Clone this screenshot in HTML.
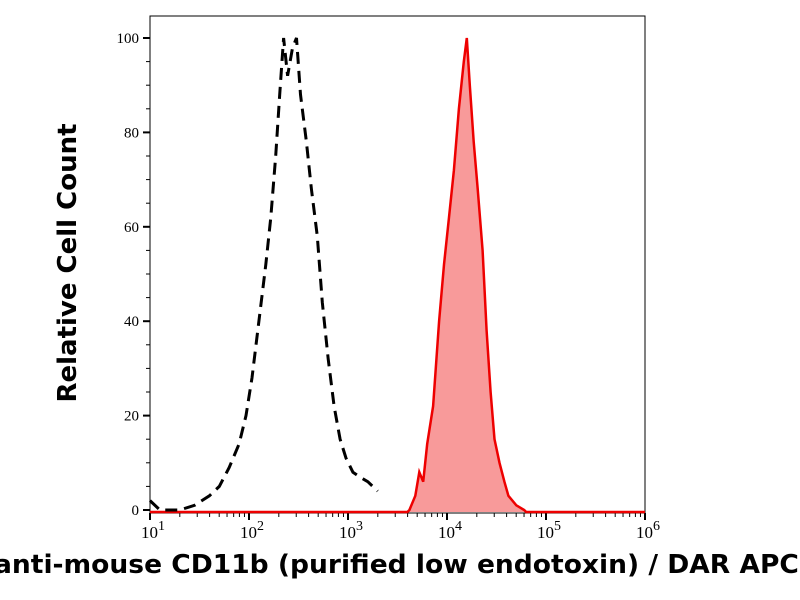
<!DOCTYPE html>
<html><head><style>
body{margin:0;background:#fff;width:800px;height:600px;overflow:hidden;position:relative;font-family:"Liberation Serif",serif}
.xl{position:absolute;left:-6px;top:550px;font:bold 26px "DejaVu Sans","Liberation Sans",sans-serif;white-space:nowrap;color:#000;transform-origin:0 0;transform:scaleX(1.02)}
.yl{position:absolute;left:68px;top:263px;transform:translate(-50%,-50%) rotate(-90deg);font:bold 26px "DejaVu Sans","Liberation Sans",sans-serif;white-space:nowrap}
</style></head><body>
<svg id="s" width="800" height="600" style="position:absolute;left:0;top:0"></svg>
<div class="yl">Relative Cell Count</div>
<div class="xl">anti-mouse CD11b (purified low endotoxin) / DAR APC</div>
<script>
const X=l=>150+(l-1)*99, Y=v=>510-v*4.72;
let h='';
h+='<rect x="150" y="16" width="495" height="497" fill="none" stroke="#000" stroke-width="1"/>';
for(let v=0;v<=100;v+=5){let y=Y(v),big=v%20==0;h+=`<line x1="${big?143:146}" x2="150" y1="${y}" y2="${y}" stroke="#000" stroke-width="${big?2:1}"/>`;if(big)h+=`<text x="139" y="${y+5}" text-anchor="end" font-size="15" font-family="Liberation Serif">${v}</text>`;}
for(let d=1;d<=6;d++){let x=X(d);h+=`<line x1="${x}" x2="${x}" y1="513" y2="520" stroke="#000" stroke-width="2"/>`;h+=`<text x="${x+3}" y="538" text-anchor="middle" font-size="17">10<tspan dy="-8" font-size="14">${d}</tspan></text>`;if(d<6)for(let k=2;k<10;k++){let xx=X(d+Math.log10(k));h+=`<line x1="${xx}" x2="${xx}" y1="513" y2="517" stroke="#000"/>`;}}
const red=[[3.62,0],[3.68,3],[3.72,8],[3.76,6],[3.8,14],[3.86,22],[3.92,40],[3.97,52],[4.02,62],[4.07,72],[4.12,85],[4.17,95],[4.2,100],[4.23,90],[4.27,78],[4.31,68],[4.36,55],[4.4,38],[4.44,25],[4.48,15],[4.53,10],[4.58,6],[4.62,3],[4.7,1],[4.78,0]];
let p='M'+X(1)+' 512 L'+X(3.6)+' 512 '+red.map(a=>`L${X(a[0]).toFixed(1)} ${Y(a[1]).toFixed(1)}`).join(' ')+' L'+X(4.8)+' 512 L645 512';
h+=`<path d="${p} Z" fill="#f89a9a"/><path d="${p}" fill="none" stroke="#e00" stroke-width="2.5"/>`;
const blk=[[1.0,2],[1.1,0],[1.3,0],[1.45,1],[1.6,3],[1.7,5],[1.8,9],[1.9,14],[1.97,20],[2.03,28],[2.1,40],[2.17,52],[2.22,62],[2.27,75],[2.31,88],[2.35,100],[2.39,92],[2.44,98],[2.48,100],[2.52,88],[2.58,78],[2.63,68],[2.69,58],[2.74,44],[2.8,32],[2.86,22],[2.92,15],[2.98,11],[3.05,8],[3.12,7],[3.2,6],[3.3,4]];
h+=`<path d="${'M'+blk.map(a=>`${X(a[0]).toFixed(1)} ${Y(a[1]).toFixed(1)}`).join(' L')}" fill="none" stroke="#000" stroke-width="3" stroke-dasharray="12,7"/>`;
document.getElementById('s').innerHTML=h;
</script>
</body></html>
